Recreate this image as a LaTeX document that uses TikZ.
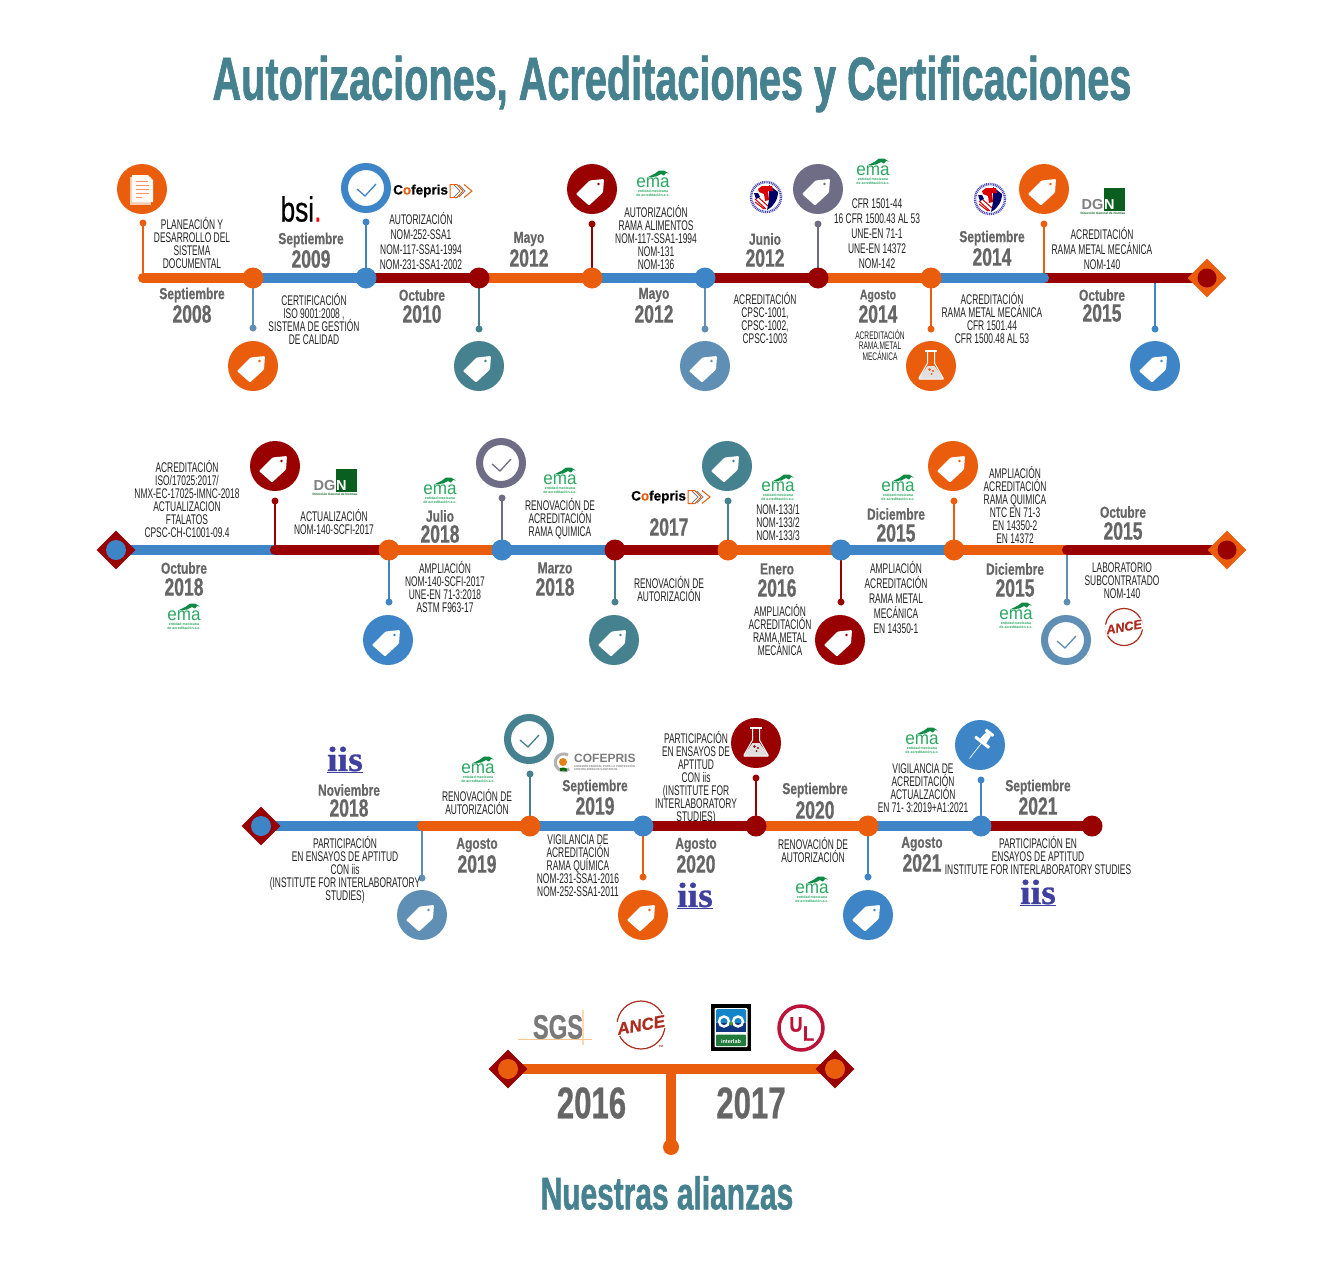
\documentclass[tikz,border=0pt]{standalone}
\usepackage{fontspec}
\usetikzlibrary{shapes.geometric}
\setmainfont{Liberation Sans}
\newfontfamily\bodyf[FakeStretch=0.6]{Liberation Sans}
\newfontfamily\monf[UprightFont=* Bold,FakeStretch=0.75,FakeBold=0.5]{Liberation Sans}
\newfontfamily\yrf[UprightFont=* Bold,FakeStretch=0.7,FakeBold=0.6]{Liberation Sans}
\newfontfamily\titf[UprightFont=* Bold,FakeStretch=0.65,FakeBold=1]{Liberation Sans}
\newfontfamily\emaf[FakeStretch=0.95]{Liberation Sans}
\newfontfamily\bsif[FakeStretch=0.75,FakeBold=0.5]{Liberation Sans}
\newfontfamily\sgsf[UprightFont=* Bold,FakeStretch=0.7,FakeBold=0.5]{Liberation Sans}
\newfontfamily\ulf[UprightFont=* Bold,FakeStretch=0.87,FakeBold=0.6]{Liberation Sans}
\newfontfamily\plainb[UprightFont=* Bold]{Liberation Sans}
\newfontfamily\cofb[UprightFont=* Bold,FakeBold=0.5]{Liberation Sans}
\newfontfamily\anf[UprightFont=* Bold Italic,FakeBold=0.5]{Liberation Sans}
\newfontfamily\iisf[UprightFont=* Bold,FakeStretch=1.08,FakeBold=0.8]{Liberation Serif}
\lineskiplimit=-30pt
\normallineskiplimit=-30pt
\definecolor{orangeC}{HTML}{EA5D0D}
\definecolor{blueC}{HTML}{3D85C6}
\definecolor{redC}{HTML}{990000}
\definecolor{tealC}{HTML}{45818E}
\definecolor{steelC}{HTML}{5F8FB4}
\definecolor{greyC}{HTML}{6F6D85}
\definecolor{txtC}{HTML}{666666}
\definecolor{inkC}{HTML}{222222}
\definecolor{emaG}{HTML}{2BA862}
\definecolor{emaD}{HTML}{0F8A45}
\definecolor{dgnG}{HTML}{0B5F1E}
\definecolor{iisC}{HTML}{3F3F9F}
\definecolor{anceC}{HTML}{AD2C1E}
\definecolor{ulC}{HTML}{BD1339}
\definecolor{ilB}{HTML}{1484C9}
\definecolor{ilN}{HTML}{10357F}
\definecolor{ilG}{HTML}{1F7A3C}
\pgfdeclarelayer{bgA}\pgfdeclarelayer{bgB}
\pgfsetlayers{bgA,bgB,main}
\tikzset{
 tbody/.style={inner sep=0,align=center,text=inkC,font=\bodyf\fontsize{14}{13}\selectfont},
 tbodyb/.style={inner sep=0,align=center,text=inkC,font=\bodyf\fontsize{14}{15}\selectfont},
 tsmall/.style={inner sep=0,align=center,text=inkC,font=\bodyf\fontsize{11}{10.5}\selectfont},
 tmon/.style={inner sep=0,text=txtC,font=\monf\fontsize{16}{16}\selectfont},
 tyr/.style={inner sep=0,text=txtC,font=\yrf\fontsize{25}{25}\selectfont},
 ttitle/.style={inner sep=0,text=tealC,font=\titf\fontsize{61}{61}\selectfont},
 tnues/.style={inner sep=0,text=tealC,font=\titf\fontsize{46}{46}\selectfont},
 tbig/.style={inner sep=0,text=txtC,font=\yrf\fontsize{44.5}{44.5}\selectfont},
 disc/.style={circle,inner sep=0,minimum size=50pt},
 ringn/.style={circle,inner sep=0,minimum size=43pt,line width=7pt,fill=white},
 sta/.style={circle,inner sep=0,minimum size=21pt},
 dotn/.style={circle,inner sep=0,minimum size=7pt},
 dia/.style={diamond,aspect=1,inner sep=0,minimum width=39pt,minimum height=39pt},
 barl/.style={line width=10pt,line cap=round},
 stemline/.style={line width=2pt},
 tinyt/.style={inner sep=0,align=center,font=\plainb\fontsize{3.6}{4}\selectfont},
}
\newcommand\seg[3]{\begin{pgfonlayer}{bgB}\draw[barl,draw=#3] (#1.center) -- (#2.center);\end{pgfonlayer}}
\newcommand\stemto[5]{\node[dotn,fill=#5] (#2) at (#3,#4) {};\begin{pgfonlayer}{bgA}\draw[stemline,draw=#5] (#1.center) -- (#2.center);\end{pgfonlayer}}
\newcommand\dt[6]{\node[tmon] (#1m) at (#2,#3) {#5};\node[tyr] (#1y) at (#2,#4) {#6};}
\newcommand\tagicon[4]{\node[disc,fill=#4] (#1) at (#2,#3) {};
 \begin{scope}[shift={(#1.center)}]
 \fill[white,rounded corners=1pt] (12,-10) -- (11,3.5) -- (-3,16.5) -- (-16,5) -- (-2.5,-8.5) -- cycle;
 \fill[#4] (6.5,-5) circle (1.4);
 \end{scope}}
\newcommand\checkicon[4]{\node[ringn,draw=#4] (#1) at (#2,#3) {};
 \begin{scope}[shift={(#1.center)}]
 \draw[#4,line width=1.3pt] (-9,1) -- (-1,8) -- (10,-4);
 \end{scope}}
\newcommand\flaskicon[4]{\node[disc,fill=#4] (#1) at (#2,#3) {};
 \begin{scope}[shift={(#1.center)}]
 \fill[white!88!black] (-3.5,0) -- (3.5,0) -- (12,12) -- (12,13) -- (-12,13) -- (-12,12) -- cycle;
 \draw[white,line width=1pt,line join=round] (-3.5,-14) -- (-3.5,-3) -- (-12,12) -- (-12,13) -- (12,13) -- (12,12) -- (3.5,-3) -- (3.5,-14);
 \draw[white,line width=1.2pt] (-6,-15) -- (6,-15);
 \fill[#4] (-1.5,3.5) circle (1.3) (2,5) circle (1.1) (0.5,8) circle (1);
 \end{scope}}
\newcommand\emalogo[3]{\begin{scope}[shift={(#2,#3)}]
 \fill[emaD] (-6,-6.5) -- (2,-10.5) -- (6,-13.5) -- (11,-13.5) -- (16,-10.5) -- (13,-11) -- (11,-8.5) -- (8,-10) -- (3,-7.5) -- cycle;
 \node[inner sep=0,text=emaG,font=\emaf\fontsize{18}{18}\selectfont] (#1a) at (0,-1) {ema};
 \node[tinyt,text=emaG] (#1b) at (0,9) {entidad mexicana\\de acreditación a.c.};
 \end{scope}}
\newcommand\dgnlogo[3]{\begin{scope}[shift={(#2,#3)}]
 \fill[dgnG] (2,-13) rectangle (23,10);
 \node[anchor=east,inner sep=0,text=white!50!black,font=\plainb\fontsize{14.5}{14.5}\selectfont] (#1a) at (1.5,4) {DG};
 \node[anchor=west,inner sep=0,text=white,font=\plainb\fontsize{14.5}{14.5}\selectfont] (#1c) at (2,4) {N};
 \node[inner sep=0,text=dgnG,font=\plainb\fontsize{3.2}{3.2}\selectfont] (#1b) at (1,12.5) {Dirección General de Normas};
 \end{scope}}
\newcommand\iislogo[3]{\begin{scope}[shift={(#2,#3)}]
 \node[inner sep=0,text=iisC,font=\iisf\fontsize{35}{35}\selectfont] (#1a) at (0,-1) {iis};
 \draw[iisC,line width=1pt] (-18,12.5) -- (18,12.5);
 \end{scope}}
\newcommand\cofep[3]{\begin{scope}[shift={(#2,#3)}]
 \node[anchor=west,inner sep=0,font=\cofb\fontsize{13.5}{13.5}\selectfont] (#1a) at (0,0) {C{\color{orangeC}o}fepris};
 \draw[orangeC,line width=1pt] (57,-6.5) -- (57,6.5) -- (64,6.5) -- (70,0) -- (64,-6.5) -- cycle;
 \draw[gray,line width=1pt] (61,-6) -- (67,0) -- (61,6);
 \draw[gray,line width=1pt] (66,-6) -- (72,0) -- (66,6);
 \draw[orangeC,line width=1pt] (71,-6.5) -- (79,0) -- (71,6.5);
 \end{scope}}
\newcommand\seal[3]{\begin{scope}[shift={(#2,#3)}]
 \node[circle,fill=white,inner sep=0,minimum size=33pt] (#1) at (0,0) {};
 \draw[gray!60!blue,line width=2.5pt,dash pattern=on 1pt off .8pt] (0,0) circle (15);
 \fill[blue!40!black] (3,-12) -- (12,-5) .. controls (12,3) and (7,10) .. (1,13) -- (3,3) -- cycle;
 \fill[red!85!black] (-8,-8) -- (-4,-11) -- (6,-11) -- (7,-6) -- (2,-6) -- (3,3) -- (-1,4) -- (-2,-3) -- (-7,-5) -- cycle;
 \draw[red!80!black,line width=1pt] (-11,2) -- (0,12) (-11,5) -- (-2,12) (-7,1) -- (2,9);
 \fill[blue!40!black] (-12,-4) -- (-8,-4) -- (-6,0) -- (-10,2) -- cycle;
 \end{scope}}
\newcommand\ancelogo[5]{\begin{scope}[shift={(#2,#3)}]
 \draw[anceC,line width=1.2pt] (0,0) circle (#4);
 \node[inner sep=1pt,fill=white,rotate=10,text=anceC,font=\anf\fontsize{#5}{#5}\selectfont] (#1a) at (0,0) {ANCE};
 \end{scope}}
\begin{document}
\begin{tikzpicture}[x=1pt,y=-1pt]
\useasboundingbox (0,0) rectangle (1342,1275);
\begin{pgfonlayer}{bgA}\fill[white] (0,0) rectangle (1342,1275);\end{pgfonlayer}
\node[ttitle] (title) at (672,84) {Autorizaciones, Acreditaciones y Certificaciones};

%% ROW 1
\coordinate (r1s) at (143,278);
\node[sta,fill=orangeC] (r1a) at (253,278) {};
\node[sta,fill=blueC] (r1b) at (366,278) {};
\node[sta,fill=redC] (r1c) at (479,278) {};
\node[sta,fill=orangeC] (r1d) at (592,278) {};
\node[sta,fill=blueC] (r1e) at (705,278) {};
\node[sta,fill=redC] (r1f) at (818,278) {};
\node[sta,fill=orangeC] (r1g) at (931,278) {};
\coordinate (r1h) at (1044,278);
\coordinate (r1i) at (1155,278);
\node[dia,fill=orangeC] (r1z) at (1207,278) {};
\node[sta,fill=redC,minimum size=19pt] (r1zc) at (1207,278) {};
\seg{r1s}{r1a}{orangeC}\seg{r1a}{r1b}{blueC}\seg{r1b}{r1c}{redC}\seg{r1c}{r1d}{orangeC}\seg{r1d}{r1e}{blueC}\seg{r1e}{r1f}{redC}\seg{r1f}{r1g}{orangeC}\seg{r1h}{r1z}{redC}\seg{r1g}{r1h}{blueC}
\stemto{r1s}{r1sd}{143}{223}{orangeC}
\stemto{r1a}{r1ad}{253}{328}{steelC}
\stemto{r1b}{r1bd}{366}{222}{blueC}
\stemto{r1c}{r1cd}{479}{329}{tealC}
\stemto{r1d}{r1dd}{592}{224}{redC}
\stemto{r1e}{r1ed}{705}{329}{steelC}
\stemto{r1f}{r1fd}{818}{224}{greyC}
\stemto{r1g}{r1gd}{931}{329}{orangeC}
\stemto{r1h}{r1hd}{1044}{224}{orangeC}
\stemto{r1i}{r1id}{1155}{329}{blueC}
% doc icon
\node[disc,fill=orangeC] (r1i1) at (142,189) {};
\begin{scope}[shift={(r1i1.center)}]
 \fill[orangeC!30!white] (-12,-12) rectangle (9,16);
 \fill[white!97!orange] (-10,-14) -- (6,-14) -- (11,-9) -- (11,13) -- (-10,13) -- cycle;
 \draw[orangeC!65!white,line width=.8pt] (-6,-8) -- (6,-8) (-6,-4) -- (7,-4) (-6,0) -- (7,0) (-6,4) -- (7,4) (-6,8) -- (0,8);
\end{scope}
\tagicon{r1i2}{253}{366}{orangeC}
\checkicon{r1i3}{366}{188}{blueC}
\tagicon{r1i4}{479}{366}{tealC}
\tagicon{r1i5}{592}{189}{redC}
\tagicon{r1i6}{705}{366}{steelC}
\tagicon{r1i7}{818}{189}{greyC}
\flaskicon{r1i8}{931}{366}{orangeC}
\tagicon{r1i9}{1044}{189}{orangeC}
\tagicon{r1i10}{1155}{366}{blueC}

\node[tbody] (r1t1) at (192,243) {PLANEACIÓN Y\\DESARROLLO DEL\\SISTEMA\\DOCUMENTAL};
\dt{r1d1}{192}{295}{314}{Septiembre}{2008}
\node[inner sep=0,font=\bsif\fontsize{35}{35}\selectfont] (r1bsi) at (301,209) {bsi{\color{red}.}};
\dt{r1d2}{311}{240}{259}{Septiembre}{2009}
\node[tbody] (r1t2) at (314,319) {CERTIFICACIÓN\\ISO 9001:2008 ,\\SISTEMA DE GESTIÓN\\DE CALIDAD};
\cofep{r1cof}{393}{191}
\node[tbodyb] (r1t3) at (421,241) {AUTORIZACIÓN\\NOM-252-SSA1\\NOM-117-SSA1-1994\\NOM-231-SSA1-2002};
\dt{r1d3}{422}{295}{314}{Octubre}{2010}
\dt{r1d4}{529}{239}{258}{Mayo}{2012}
\emalogo{r1e1}{653}{184}
\node[tbody] (r1t4) at (656,237) {AUTORIZACIÓN\\RAMA ALIMENTOS\\NOM-117-SSA1-1994\\NOM-131\\NOM-136};
\dt{r1d5}{654}{295}{314}{Mayo}{2012}
\node[tbody] (r1t5) at (765,318) {ACREDITACIÓN\\CPSC-1001,\\CPSC-1002,\\CPSC-1003};
\seal{r1s1}{766}{197}
\dt{r1d6}{765}{239}{258}{Junio}{2012}
\emalogo{r1e2}{873}{172}
\node[tbodyb] (r1t6) at (877,234) {CFR 1501-44\\16 CFR 1500.43 AL 53\\UNE-EN 71-1\\UNE-EN 14372\\NOM-142};
\node[tmon,font=\monf\fontsize{14}{14}\selectfont] (r1d7m) at (878,296) {Agosto};
\node[tyr] (r1d7y) at (878,314) {2014};
\node[tsmall] (r1t7) at (880,345) {ACREDITACIÓN\\RAMA.METAL\\MECÁNICA};
\node[tbody] (r1t8) at (992,318) {ACREDITACIÓN\\RAMA METAL MECÁNICA\\CFR 1501.44\\CFR 1500.48 AL 53};
\seal{r1s2}{990}{199}
\dt{r1d8}{992}{238}{257}{Septiembre}{2014}
\dgnlogo{r1dgn}{1102}{201}
\node[tbodyb] (r1t9) at (1102,248) {ACREDITACIÓN\\RAMA METAL MECÁNICA\\NOM-140};
\dt{r1d9}{1102}{295}{313}{Octubre}{2015}

%% ROW 2
\node[dia,fill=redC] (r2y) at (116,550) {};
\node[sta,fill=blueC,minimum size=20pt] (r2yc) at (116,550) {};
\coordinate (r2s) at (275,550);
\node[sta,fill=orangeC] (r2a) at (389,550) {};
\node[sta,fill=blueC] (r2b) at (502,550) {};
\node[sta,fill=redC] (r2c) at (615,550) {};
\node[sta,fill=orangeC] (r2d) at (728,550) {};
\node[sta,fill=blueC] (r2e) at (841,550) {};
\node[sta,fill=orangeC] (r2f) at (954,550) {};
\coordinate (r2g) at (1067,550);
\node[dia,fill=orangeC] (r2z) at (1227,550) {};
\node[sta,fill=redC,minimum size=19pt] (r2zc) at (1227,550) {};
\seg{r2y}{r2s}{blueC}\seg{r2s}{r2a}{redC}\seg{r2a}{r2b}{orangeC}\seg{r2b}{r2c}{blueC}\seg{r2c}{r2d}{redC}\seg{r2d}{r2e}{orangeC}\seg{r2e}{r2f}{blueC}\seg{r2f}{r2g}{orangeC}\seg{r2g}{r2z}{redC}
\stemto{r2s}{r2sd}{275}{501}{redC}
\stemto{r2a}{r2ad}{389}{602}{blueC}
\stemto{r2b}{r2bd}{502}{498}{greyC}
\stemto{r2c}{r2cd}{615}{602}{tealC}
\stemto{r2d}{r2dd}{728}{501}{tealC}
\stemto{r2e}{r2ed}{841}{602}{redC}
\stemto{r2f}{r2fd}{954}{501}{orangeC}
\stemto{r2g}{r2gd}{1067}{602}{steelC}
\tagicon{r2i1}{275}{466}{redC}
\tagicon{r2i2}{388}{640}{blueC}
\checkicon{r2i3}{501}{463}{greyC}
\tagicon{r2i4}{614}{640}{tealC}
\tagicon{r2i5}{727}{466}{tealC}
\tagicon{r2i6}{840}{640}{redC}
\tagicon{r2i7}{953}{466}{orangeC}
\checkicon{r2i8}{1066}{640}{steelC}

\node[tbody] (r2t1) at (187,499) {ACREDITACIÓN\\ISO/17025:2017/\\NMX-EC-17025-IMNC-2018\\ACTUALIZACION\\FTALATOS\\CPSC-CH-C1001-09.4};
\dt{r2d1}{184}{568}{587}{Octubre}{2018}
\emalogo{r2e1}{184}{617}
\dgnlogo{r2dgn}{334}{482}
\node[tbody] (r2t2) at (334,522) {ACTUALIZACIÓN\\NOM-140-SCFI-2017};
\emalogo{r2e2}{440}{491}
\dt{r2d2}{440}{516}{534}{Julio}{2018}
\node[tbody] (r2t3) at (445,587) {AMPLIACIÓN\\NOM-140-SCFI-2017\\UNE-EN 71-3:2018\\ASTM F963-17};
\emalogo{r2e3}{560}{481}
\node[tbody] (r2t4) at (560,519) {RENOVACIÓN DE\\ACREDITACIÓN\\RAMA QUIMICA};
\dt{r2d3}{555}{568}{587}{Marzo}{2018}
\cofep{r2cof}{631}{497}
\node[tyr] (r2y17) at (669,527) {2017};
\node[tbody] (r2t5) at (669,589) {RENOVACIÓN DE\\AUTORIZACIÓN};
\emalogo{r2e4}{778}{488}
\node[tbody] (r2t6) at (778,522) {NOM-133/1\\NOM-133/2\\NOM-133/3};
\dt{r2d4}{777}{569}{588}{Enero}{2016}
\node[tbody] (r2t7) at (780,630) {AMPLIACIÓN\\ACREDITACIÓN\\RAMA,METAL\\MECÁNICA};
\node[tbodyb] (r2t8) at (896,597) {AMPLIACIÓN\\ACREDITACIÓN\\RAMA METAL\\MECÁNICA\\EN 14350-1};
\emalogo{r2e5}{898}{488}
\dt{r2d5}{896}{514}{533}{Diciembre}{2015}
\node[tbody] (r2t9) at (1015,505) {AMPLIACIÓN\\ACREDITACIÓN\\RAMA QUIMICA\\NTC EN 71-3\\EN 14350-2\\EN 14372};
\dt{r2d6}{1015}{569}{588}{Diciembre}{2015}
\emalogo{r2e6}{1016}{616}
\dt{r2d7}{1123}{512}{531}{Octubre}{2015}
\node[tbody] (r2t10) at (1122,581) {LABORATORIO\\SUBCONTRATADO\\NOM-140};
\ancelogo{r2an}{1124}{627}{18.5}{12.7}

%% ROW 3
\node[dia,fill=redC] (r3y) at (261,826) {};
\node[sta,fill=blueC,minimum size=20pt] (r3yc) at (261,826) {};
\coordinate (r3s) at (422,826);
\node[sta,fill=orangeC] (r3a) at (530,826) {};
\node[sta,fill=blueC] (r3b) at (643,826) {};
\node[sta,fill=redC] (r3c) at (756,826) {};
\node[sta,fill=orangeC] (r3d) at (868,826) {};
\node[sta,fill=blueC] (r3e) at (981,826) {};
\node[sta,fill=redC] (r3f) at (1092,826) {};
\seg{r3y}{r3s}{blueC}\seg{r3s}{r3a}{orangeC}\seg{r3a}{r3b}{blueC}\seg{r3b}{r3c}{redC}\seg{r3c}{r3d}{orangeC}\seg{r3d}{r3e}{blueC}\seg{r3e}{r3f}{redC}
\stemto{r3s}{r3sd}{422}{878}{steelC}
\stemto{r3a}{r3ad}{530}{774}{tealC}
\stemto{r3b}{r3bd}{643}{877}{orangeC}
\stemto{r3c}{r3cd}{756}{778}{redC}
\stemto{r3d}{r3dd}{868}{877}{blueC}
\stemto{r3e}{r3ed}{981}{780}{blueC}
\tagicon{r3i1}{422}{915}{steelC}
\checkicon{r3i2}{529}{739}{tealC}
\tagicon{r3i3}{643}{915}{orangeC}
\flaskicon{r3i4}{756}{743}{redC}
\tagicon{r3i5}{868}{915}{blueC}
\node[disc,fill=blueC] (r3i6) at (980,745) {};
\begin{scope}[shift={(r3i6.center)},rotate=-38]
 \fill[white,rounded corners=.6pt] (-5,-17) rectangle (5,-14);
 \fill[white] (-3,-14) -- (3,-14) -- (4,-5) -- (-4,-5) -- cycle;
 \fill[white,rounded corners=.6pt] (-9,-5) rectangle (9,-2);
 \draw[white,line width=.7pt] (0,-2) -- (0,17);
\end{scope}

\iislogo{r3s1}{345}{760}
\dt{r3d1}{349}{790}{808}{Noviembre}{2018}
\node[tbody] (r3t1) at (345,870) {PARTICIPACIÓN\\EN ENSAYOS DE APTITUD\\CON iis\\(INSTITUTE FOR INTERLABORATORY\\STUDIES)};
\emalogo{r3e1}{478}{770}
\node[tbody] (r3t2) at (477,802) {RENOVACIÓN DE\\AUTORIZACIÓN};
\dt{r3d2}{477}{845}{864}{Agosto}{2019}
% second Cofepris mark
\begin{scope}[shift={(563,762)}]
 \draw[gray!60,line width=3pt] (5,-7) arc (-60:-310:8.5);
 \draw[green!40!black,line width=3pt] (-3,7.5) arc (-110:-60:8);
 \fill[orange!60!brown] (0,0) circle (4);
 \node[anchor=west,inner sep=0,text=txtC!85!white,font=\plainb\fontsize{12}{12}\selectfont] (r3cofa) at (11,-3.5) {COFEPRIS};
 \node[anchor=west,inner sep=0,align=left,text=gray,font=\plainb\fontsize{2.8}{3.4}\selectfont] (r3cofb) at (11,5.5) {COMISIÓN FEDERAL PARA LA PROTECCIÓN\\CONTRA RIESGOS SANITARIOS};
\end{scope}
\dt{r3d3}{595}{787}{806}{Septiembre}{2019}
\node[tbody] (r3t3) at (578,866) {VIGILANCIA DE\\ACREDITACIÓN\\RAMA QUÍMICA\\NOM-231-SSA1-2016\\NOM-252-SSA1-2011};
\node[tbody] (r3t4) at (696,778) {PARTICIPACIÓN\\EN ENSAYOS DE\\APTITUD\\CON iis\\(INSTITUTE FOR\\INTERLABORATORY\\STUDIES)};
\dt{r3d4}{815}{790}{810}{Septiembre}{2020}
\dt{r3d5}{696}{845}{864}{Agosto}{2020}
\iislogo{r3s2}{695}{896}
\node[tbody] (r3t5) at (813,850) {RENOVACIÓN DE\\AUTORIZACIÓN};
\emalogo{r3e2}{812}{890}
\emalogo{r3e3}{922}{741}
\node[tbody] (r3t6) at (923,788) {VIGILANCIA DE\\ACREDITACIÓN\\ACTUALZACIÓN\\EN 71- 3:2019+A1:2021};
\dt{r3d6}{922}{844}{863}{Agosto}{2021}
\dt{r3d7}{1038}{787}{806}{Septiembre}{2021}
\node[tbody] (r3t7) at (1038,855) {PARTICIPACIÓN EN\\ENSAYOS DE APTITUD\\INSTITUTE FOR INTERLABORATORY STUDIES};
\iislogo{r3s3}{1038}{893}

%% ROW 4
\node[dia,fill=redC] (r4a) at (508,1069) {};
\node[sta,fill=orangeC,minimum size=20pt] (r4ac) at (508,1069) {};
\node[dia,fill=redC] (r4b) at (835,1069) {};
\node[sta,fill=orangeC,minimum size=20pt] (r4bc) at (835,1069) {};
\coordinate (r4m) at (671,1069);
\node[circle,inner sep=0,minimum size=16pt,fill=orangeC] (r4e) at (671,1147) {};
\seg{r4a}{r4m}{orangeC}\seg{r4m}{r4b}{orangeC}
\begin{pgfonlayer}{bgB}\draw[line width=10pt,draw=orangeC] (r4m) -- (r4e.center);\end{pgfonlayer}
\node[tbig] (r4y1) at (591.5,1103) {2016};
\node[tbig] (r4y2) at (751,1103) {2017};
\node[tnues] (r4t) at (667,1193) {Nuestras alianzas};
% SGS
\node[inner sep=0,text=gray!95!black,font=\sgsf\fontsize{34}{34}\selectfont] (r4sgs) at (558,1027) {SGS};
\draw[orange!45!white,line width=1pt] (518,1039) -- (592,1039);
\draw[orange!30!white,line width=1.5pt] (583,1010) -- (583,1045);
\ancelogo{r4an}{641}{1025}{24}{17}
\node[inner sep=0,text=anceC,font=\plainb\fontsize{3}{3}\selectfont] (r4tm) at (661,1046) {TM};
% Interlab
\node[rectangle,inner sep=0,minimum width=40pt,minimum height=47pt,fill=black] (r4il) at (731,1027.5) {};
\begin{scope}[shift={(r4il.center)}]
 \fill[white,rounded corners=1pt] (-16.5,-19.5) rectangle (16.5,19.5);
 \fill[ilB,rounded corners=1.5pt] (-15,-18.5) rectangle (15,-4);
 \fill[ilN] (-15,-5) rectangle (15,4.5);
 \draw[white,line width=2.4pt] (-7,-6) circle (5) (7,-6) circle (5);
 \fill[ilG!80!yellow] (0,-4) circle (2);
 \fill[ilG,rounded corners=1pt] (-15,7) rectangle (15,18.5);
 \node[inner sep=0,text=white,font=\plainb\fontsize{5.5}{5.5}\selectfont] (r4ilt) at (0,14) {interlab};
\end{scope}
% UL
\node[circle,inner sep=0,minimum size=44pt,line width=3.5pt,draw=ulC,fill=white] (r4ul) at (801,1028) {};
\node[inner sep=0,text=ulC,font=\ulf\fontsize{21}{21}\selectfont] (r4ulu) at (796,1024.5) {U};
\node[inner sep=0,text=ulC,font=\ulf\fontsize{21}{21}\selectfont] (r4ull) at (808.5,1033.5) {L};
\end{tikzpicture}
\end{document}
